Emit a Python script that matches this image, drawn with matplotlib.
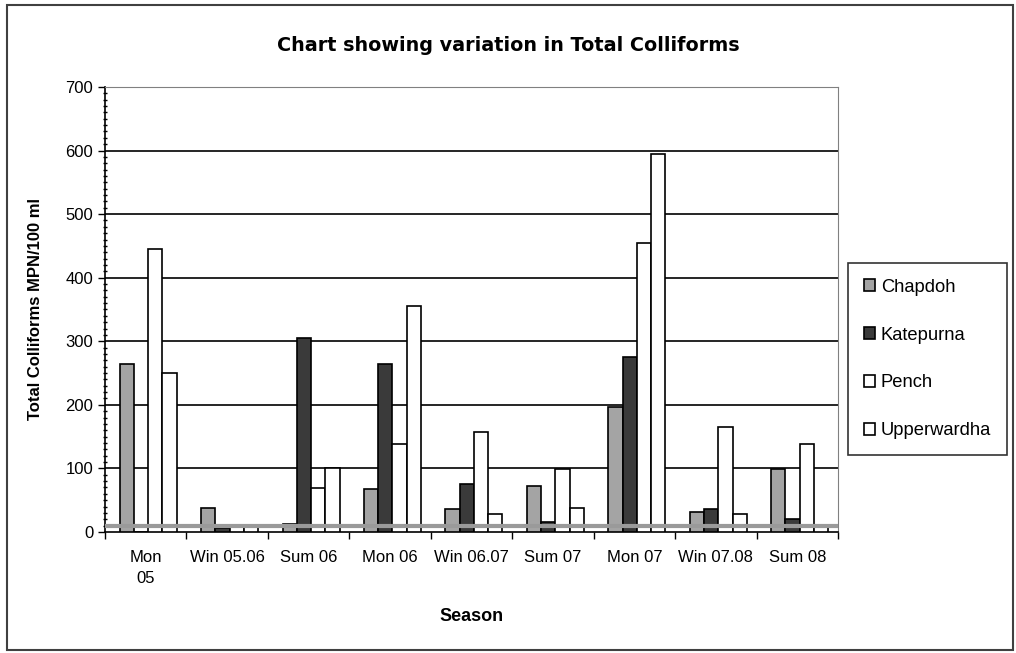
import numpy as np
import matplotlib.pyplot as plt
from matplotlib.patches import Rectangle
from matplotlib.ticker import MultipleLocator

plt.rcParams['font.family'] = ['Liberation Sans', 'DejaVu Sans']

# Seasons (x categories)
seasons = ['Mon\n05', 'Win 05.06', 'Sum 06', 'Mon 06', 'Win 06.07',
           'Sum 07', 'Mon 07', 'Win 07.08', 'Sum 08']

# Total colliforms (MPN/100 ml)
chapdoh = [264, 38, 12, 67, 36, 72, 197, 31, 99]
katepurna = [0, 6, 305, 264, 75, 16, 275, 36, 20]
pench = [445, 11, 69, 138, 157, 99, 455, 165, 138]
upperwardha = [250, 11, 101, 355, 28, 38, 594, 29, 10]

series_names = ['Chapdoh', 'Katepurna', 'Pench', 'Upperwardha']
series_values = [chapdoh, katepurna, pench, upperwardha]
series_colors = ['#a4a4a4', '#3a3a3a', 'white', 'white']

limit_value = 10  # grey reference line

# ---------------------------------------------------------------------------- #

fig = plt.figure(figsize=(10.16, 6.53), dpi=100)
ax = fig.add_axes([0.1033, 0.1853, 0.7215, 0.6815])

x = np.arange(len(seasons))
w = 0.175
for i, (name, vals, col) in enumerate(zip(series_names, series_values, series_colors)):
    ax.bar(x + (i - 1.5) * w + 0.03, vals, w, color=col, edgecolor='black',
           linewidth=1.2, label=name, zorder=3)

# gridlines every 100
for v in range(100, 701, 100):
    ax.axhline(v, color='black', linewidth=1.2, zorder=1)

# grey limit line
ax.axhline(limit_value, color='#9a9a9a', linewidth=3, zorder=4)

ax.set_xlim(-0.5, len(seasons) - 0.5)
ax.set_ylim(0, 700)
ax.yaxis.set_major_locator(MultipleLocator(100))
ax.yaxis.set_minor_locator(MultipleLocator(10))
ax.tick_params(axis='y', which='major', length=5, width=1, labelsize=12, colors='black')
ax.tick_params(axis='y', which='minor', length=3, width=1, direction='inout')

ax.set_xticks(x)
ax.set_xticklabels(seasons, fontsize=12, linespacing=1.5)
ax.tick_params(axis='x', which='major', length=0, pad=13)
ax.set_xticks(np.arange(len(seasons) + 1) - 0.5, minor=True)
ax.tick_params(axis='x', which='minor', length=5, width=1)

for s in ['top', 'right']:
    ax.spines[s].set_color('#808080')
ax.spines['left'].set_linewidth(1.2)
ax.spines['bottom'].set_linewidth(1.2)

fig.text(0.5, 0.931, 'Chart showing variation in Total Colliforms', family='DejaVu Sans',
         fontsize=13.8, fontweight='bold', ha='center', va='center')
ax.set_xlabel('Season', fontsize=13, fontweight='bold', labelpad=16)
ax.set_ylabel('Total Colliforms MPN/100 ml', fontsize=12, fontweight='bold', labelpad=16)

leg = ax.legend(loc='upper left', bbox_to_anchor=(0.8346, 0.597), bbox_transform=fig.transFigure,
                fontsize=13.2, frameon=True, fancybox=False, edgecolor='black',
                handlelength=0.6, handleheight=0.6, handletextpad=0.35,
                labelspacing=1.68, borderpad=0.85, borderaxespad=0)
leg.get_frame().set_linewidth(1.2)

# outer border round the whole chart
fig.patches.append(Rectangle((0.007, 0.004), 0.990, 0.988, transform=fig.transFigure,
                             fill=False, edgecolor='#404040', linewidth=1.5))

fig.savefig('out.png', dpi=100)
